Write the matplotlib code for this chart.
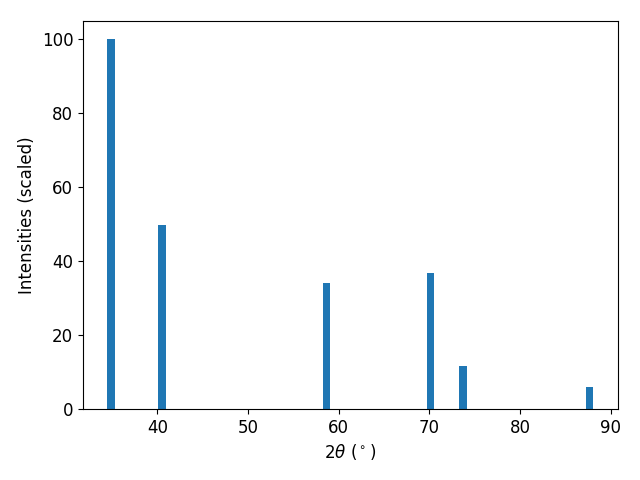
import matplotlib
matplotlib.use("Agg")
import matplotlib.pyplot as plt

two_theta = [34.88, 40.5, 58.62, 70.08, 73.7, 87.65]
intensity = [100.0, 49.9, 34.1, 36.9, 11.7, 6.0]

plt.rcParams["font.size"] = 12

fig, ax = plt.subplots(figsize=(6.4, 4.8), dpi=100)
ax.bar(two_theta, intensity, width=0.8)
ax.set_xlabel(r"$2\theta$ ($^\circ$)")
ax.set_ylabel("Intensities (scaled)")
# axes box placed to match the reference layout
fig.subplots_adjust(left=83 / 640, right=617.5 / 640, top=1 - 21 / 480, bottom=1 - 409 / 480)
fig.savefig("out.png")
